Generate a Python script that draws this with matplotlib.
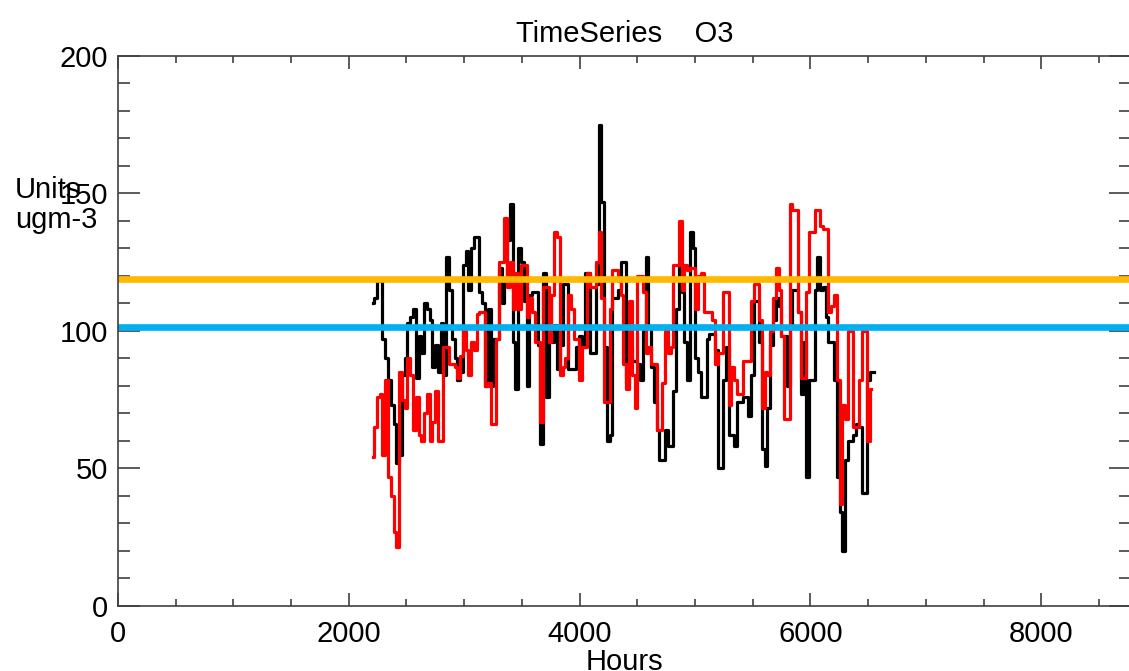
import numpy as np
import matplotlib.pyplot as plt
from matplotlib.ticker import MultipleLocator

plt.rcParams['font.family'] = ['Liberation Sans', 'DejaVu Sans']

# daily mean O3 (ugm-3), one value per day from hour 2208
black_vals = [
    110, 112, 118, 118, 97, 90, 82, 73, 66, 52,
    55, 84, 90, 103, 105, 108, 83, 98, 92, 110,
    108, 104, 87, 95, 85, 103, 84, 127, 115, 97,
    90, 82, 85, 124, 129, 115, 130, 134, 134, 114,
    110, 80,
    108, 80, 97, 97, 123, 110, 118, 133, 146, 96,
    79, 130, 125, 111, 80, 113, 114, 114, 95, 59,
    121, 76, 113, 96, 102, 86, 95, 117, 117, 86,
    86, 86, 94, 98, 94, 121, 121, 92, 92, 117,
    175, 147, 94, 60, 62, 112, 112,
    115, 125, 125, 81, 94, 89, 89, 88, 82, 100,
    127, 101, 87, 74, 64, 53, 53, 64, 58, 58,
    78, 108, 124, 114, 96, 82, 136, 130, 90, 85,
    76, 76, 97, 99, 99, 93, 50, 50, 82, 94,
    62, 62, 58, 74, 74, 76, 76,
    69, 84, 111, 111, 96, 57, 51, 72, 95, 104,
    112, 109, 98, 98, 80, 102, 115, 115, 107, 77,
    96, 47, 82, 82, 115, 127, 115, 116, 105, 96,
    96, 82, 47, 34, 20, 53, 60, 60, 62, 66,
    65, 41, 41, 82, 85, 85,
]

red_vals = [
    54, 65, 76, 77, 55, 82, 47, 40, 27, 21.5,
    85, 75, 72, 90, 84, 64, 76, 62, 60, 70,
    77, 60, 67, 78, 60, 60, 94, 94, 88, 88,
    87, 83, 91, 100, 93, 84, 96, 93, 106, 107,
    107, 80,
    81, 66, 66, 97, 125, 125, 141, 116, 125, 108,
    121, 108, 124, 124, 105, 112, 107, 96, 96, 67,
    116, 116, 96, 113, 136, 134, 84, 87, 90, 113,
    108, 97, 97, 82, 94, 94, 121, 116, 116, 125,
    136, 112, 74, 74, 108, 122, 122,
    118, 113, 88, 79, 111, 84, 72, 120, 120, 114,
    92, 94, 88, 88, 64, 64, 81, 100, 92, 94,
    124, 124, 140, 115, 124, 122, 123, 123, 108, 120,
    121, 107, 107, 107, 104, 88, 92, 92, 114, 114,
    73, 87, 82, 77, 77, 89, 89,
    89, 111, 117, 117, 104, 72, 85, 84, 100, 112,
    123, 115, 98, 68, 68, 146, 144, 144, 107, 83,
    83, 114, 136, 136, 144, 144, 138, 137, 137, 107,
    109, 113, 82, 37, 73, 68, 100, 100, 65, 65,
    82, 100, 100, 60, 79,
]

limit_orange = 119
limit_blue = 101.5

hours_black = 2208 + 24 * np.arange(len(black_vals))
hours_red = 2208 + 24 * np.arange(len(red_vals))

fig = plt.figure(figsize=(11.29, 6.71), dpi=100)
# right edge of the frame sits just past the picture, as in the original
ax = fig.add_axes([0.1045, 0.0969, 0.8975, 0.8197])

ax.step(hours_black, black_vals, where='mid', color='black', lw=2.3)
ax.step(hours_red, red_vals, where='mid', color='red', lw=2.3)
ax.axhline(limit_orange, color='#FFB900', lw=4.8)
ax.axhline(limit_blue, color='#00B0F0', lw=4.8)

ax.set_xlim(0, 8780)
ax.set_ylim(0, 200)
ax.xaxis.set_major_locator(MultipleLocator(2000))
ax.xaxis.set_minor_locator(MultipleLocator(500))
ax.yaxis.set_major_locator(MultipleLocator(50))
ax.yaxis.set_minor_locator(MultipleLocator(10))

for s in ax.spines.values():
    s.set_color('#404040')
    s.set_linewidth(1.2)

ax.tick_params(axis='both', which='both', direction='in', top=True, right=True,
               color='#404040', width=1.2, labelsize=21)
ax.tick_params(axis='x', which='major', length=9.5, pad=10)
ax.tick_params(axis='x', which='minor', length=5)
ax.tick_params(axis='y', which='major', length=16, pad=7)
ax.tick_params(axis='y', which='minor', length=8.5)

ax.set_title('TimeSeries    O3', fontsize=21, pad=10)
ax.set_xlabel('Hours', fontsize=21, labelpad=0)
fig.text(15 / 1129, 1 - 205 / 671, 'Units\nugm-3', fontsize=21,
         ha='left', va='center', linespacing=1.1)

fig.savefig('out.png', dpi=100)
